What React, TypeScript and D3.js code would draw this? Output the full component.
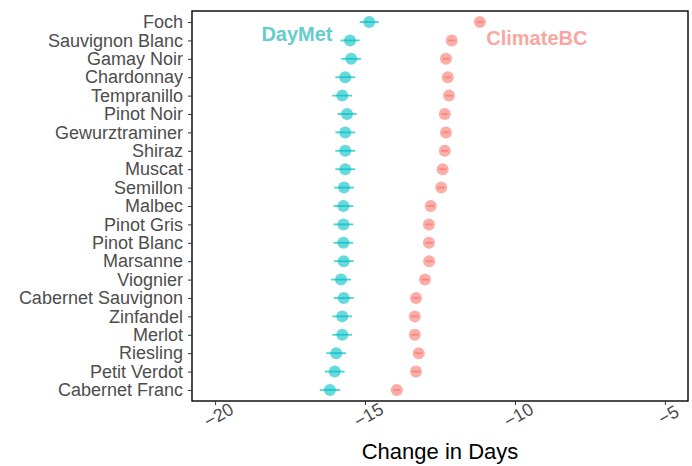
import { useEffect, useRef } from "react";
import * as d3 from "d3";

// varieties, top to bottom
const varieties = [
  "Foch", "Sauvignon Blanc", "Gamay Noir", "Chardonnay", "Tempranillo",
  "Pinot Noir", "Gewurztraminer", "Shiraz", "Muscat", "Semillon", "Malbec",
  "Pinot Gris", "Pinot Blanc", "Marsanne", "Viognier", "Cabernet Sauvignon",
  "Zinfandel", "Merlot", "Riesling", "Petit Verdot", "Cabernet Franc",
];
const dayMet = [
  -14.86, -15.5, -15.46, -15.66, -15.76, -15.6, -15.66, -15.66, -15.66, -15.7,
  -15.72, -15.72, -15.72, -15.71, -15.8, -15.71, -15.76, -15.76, -15.96, -16.01, -16.17,
];
const dayMetErr = [
  0.32, 0.32, 0.33, 0.33, 0.33, 0.32, 0.33, 0.33, 0.33, 0.33,
  0.33, 0.33, 0.33, 0.33, 0.33, 0.33, 0.33, 0.33, 0.33, 0.33, 0.34,
];
const climateBC = [
  -11.17, -12.11, -12.3, -12.24, -12.2, -12.34, -12.3, -12.34, -12.41, -12.46,
  -12.81, -12.87, -12.87, -12.86, -13.0, -13.3, -13.34, -13.34, -13.21, -13.3, -13.94,
];
const climateBCErr = [
  0.12, 0.12, 0.12, 0.12, 0.12, 0.12, 0.12, 0.12, 0.12, 0.12,
  0.12, 0.12, 0.12, 0.12, 0.12, 0.12, 0.12, 0.12, 0.12, 0.12, 0.12,
];
const xTicks = [-20, -15, -10, -5];

const W = 692;
const H = 466;
const margin = { top: 11, right: 4, bottom: 65, left: 192 };
const FONT = "'Liberation Sans', Arial, sans-serif";

const App = () => {
  const ref = useRef<SVGSVGElement>(null);

  useEffect(() => {
    const svg = d3.select(ref.current);
    svg.selectAll("*").remove();
    const width = W - margin.left - margin.right;
    const height = H - margin.top - margin.bottom;
    const g = svg.append("g").attr("transform", `translate(${margin.left},${margin.top})`);

    const x = d3.scaleLinear().domain([-20.77, -4.23]).range([0, width]);
    const y = d3.scalePoint().domain(varieties).range([0, height]).padding(0.6);

    const series = [
      { name: "DayMet", vals: dayMet, err: dayMetErr, color: "#00BFC4" },
      { name: "ClimateBC", vals: climateBC, err: climateBCErr, color: "#F8766D" },
    ];

    series.forEach((s) => {
      const grp = g.append("g");
      grp.selectAll("line")
        .data(varieties)
        .enter()
        .append("line")
        .attr("x1", (d, i) => x(s.vals[i] - s.err[i]))
        .attr("x2", (d, i) => x(s.vals[i] + s.err[i]))
        .attr("y1", (d) => y(d)!)
        .attr("y2", (d) => y(d)!)
        .attr("stroke", s.color)
        .attr("stroke-opacity", 0.7)
        .attr("stroke-width", 1.8);
      grp.selectAll("circle")
        .data(varieties)
        .enter()
        .append("circle")
        .attr("cx", (d, i) => x(s.vals[i]))
        .attr("cy", (d) => y(d)!)
        .attr("r", 6)
        .attr("fill", s.color)
        .attr("fill-opacity", 0.6);
    });

    // series labels
    g.append("text")
      .attr("x", x(-17.27))
      .attr("y", 41 - margin.top)
      .attr("text-anchor", "middle")
      .attr("font-family", FONT)
      .attr("font-weight", "bold")
      .attr("font-size", 20)
      .attr("fill", "#66CCCC")
      .text("DayMet");
    g.append("text")
      .attr("x", x(-9.27))
      .attr("y", 45 - margin.top)
      .attr("text-anchor", "middle")
      .attr("font-family", FONT)
      .attr("font-weight", "bold")
      .attr("font-size", 20)
      .attr("fill", "#F8A7A0")
      .text("ClimateBC");

    // panel border
    g.append("rect")
      .attr("width", width)
      .attr("height", height)
      .attr("fill", "none")
      .attr("stroke", "#000")
      .attr("stroke-width", 1.4);

    // y axis
    const yAxis = g.append("g")
      .call(d3.axisLeft(y).tickSize(4).tickPadding(5))
      .attr("font-family", FONT)
      .attr("font-size", 18);
    yAxis.select(".domain").remove();
    yAxis.selectAll("line").attr("stroke", "#333");
    yAxis.selectAll("text").attr("fill", "#4D4D4D");

    // x axis
    const xAxis = g.append("g")
      .attr("transform", `translate(0,${height})`)
      .call(d3.axisBottom(x).tickValues(xTicks).tickSize(4).tickFormat(d3.format("d")))
      .attr("font-family", FONT)
      .attr("font-size", 18);
    xAxis.select(".domain").remove();
    xAxis.selectAll("line").attr("stroke", "#333");
    xAxis.selectAll("text")
      .attr("fill", "#4D4D4D")
      .attr("text-anchor", "middle")
      .attr("y", 0)
      .attr("dy", "0.35em")
      .attr("transform", "translate(3,14) rotate(-30)");

    g.append("text")
      .attr("x", width / 2)
      .attr("y", 459 - margin.top)
      .attr("text-anchor", "middle")
      .attr("font-family", FONT)
      .attr("font-size", 22)
      .attr("fill", "#000")
      .text("Change in Days");
  }, []);

  return (
    <svg
      ref={ref}
      width={W}
      height={H}
      style={{ position: "absolute", left: 0, top: 0, background: "#fff" }}
    />
  );
};

export default App;
